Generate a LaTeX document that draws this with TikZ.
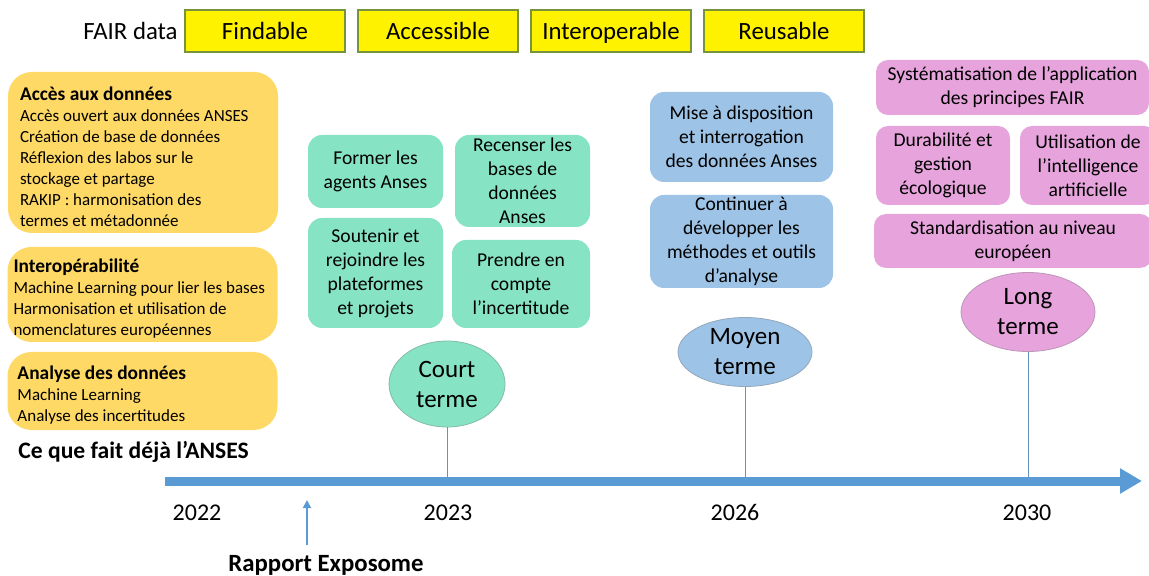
\documentclass[tikz,border=0pt]{standalone}
\usepackage{fontspec}
\setmainfont{Carlito}
\usepackage{tikz}
\usetikzlibrary{arrows.meta}
\usetikzlibrary{positioning, calc}
\usetikzlibrary{shapes.geometric}

\definecolor{fairfill}{HTML}{FFF200}
\definecolor{fairdraw}{HTML}{77933C}
\definecolor{orangebox}{HTML}{FFD966}
\definecolor{greenbox}{HTML}{86E3C3}
\definecolor{bluebox}{HTML}{9DC3E6}
\definecolor{pinkbox}{HTML}{E6A3DC}
\definecolor{axisblue}{HTML}{5B9BD5}

\newcommand{\titre}[1]{{\rule{0pt}{11pt}\bfseries\fontsize{9.7}{11}\selectfont #1}}

\begin{document}
\begin{tikzpicture}[
    x=0.5pt, y=-0.5pt,
    fair/.style={draw=fairdraw, fill=fairfill, line width=1.2pt, minimum width=80pt, minimum height=21pt, text height=10pt, text depth=1pt, font=\fontsize{12.4}{14}\selectfont},
    acquis/.style={fill=orangebox, rounded corners=12pt, minimum width=135pt, text width=128pt, inner xsep=3.5pt, inner ysep=1pt, align=flush left, font=\fontsize{8.5}{10.5}\selectfont},
    block/.style={rounded corners=7pt, align=center, inner sep=1pt, font=\fontsize{9.8}{12}\selectfont},
    court box/.style={block, fill=greenbox},
    moyen box/.style={block, fill=bluebox},
    long box/.style={block, fill=pinkbox, rounded corners=6pt},
    horizon/.style={ellipse, draw, inner sep=0pt, align=center, font=\fontsize{12.5}{15}\selectfont},
    tige/.style={draw=axisblue!70!gray, line width=0.5pt},
    year/.style={font=\fontsize{12}{14}\selectfont, text height=8.5pt, text depth=0pt}
]
    \useasboundingbox (0,0) rectangle (1149,576);

    % FAIR
    \node[anchor=east, inner xsep=0pt, font=\fontsize{12.4}{14}\selectfont] (fairdata) at (178,31) {FAIR data};
    \foreach \label [count=\i from 0] in {Findable, Accessible, Interoperable, Reusable} {
        \node[fair] (fair\i) at (265 + \i * 173, 31) {\label};
    }

    % ce qui existe deja
    \node[acquis, minimum height=80.5pt, inner xsep=6pt, text width=123pt] (acces) at (143,152.5) {\titre{Accès aux données}\\Accès ouvert aux données ANSES\\Création de base de données\\Réflexion des labos sur le\\stockage et partage\\RAKIP : harmonisation des\\termes et métadonnée};
    \node[acquis, minimum height=47.5pt, inner xsep=3pt, text width=129pt] (interop) at (142.5,294.5) {\titre{Interopérabilité}\\Machine Learning pour lier les bases\\Harmonisation et utilisation de\\nomenclatures européennes};
    \node[acquis, minimum height=39pt, inner xsep=5pt, text width=125pt] (analyse) at (142.5,391) {\titre{Analyse des données}\\Machine Learning\\Analyse des incertitudes};
    \node[anchor=west, inner xsep=0pt, font=\bfseries\fontsize{11.8}{13}\selectfont] (deja) at (18,452) {Ce que fait déjà l’ANSES};

    % court terme
    \node[court box, minimum width=67.5pt, minimum height=36.5pt] (former) at (375.5,171.5) {Former les\\agents Anses};
    \node[court box, minimum width=67.5pt, minimum height=46pt] (recenser) at (522.5,181) {Recenser les\\bases de\\données\\Anses};
    \node[court box, minimum width=67.5pt, minimum height=55pt] (soutenir) at (375.5,273) {Soutenir et\\rejoindre les\\plateformes\\et projets};
    \node[court box, minimum width=69pt, minimum height=44pt] (prendre) at (521,284) {Prendre en\\compte\\l’incertitude};

    % moyen terme
    \node[moyen box, minimum width=91.5pt, minimum height=45pt] (mise) at (741.5,137) {Mise à disposition\\et interrogation\\des données Anses};
    \node[moyen box, minimum width=91.5pt, minimum height=46.5pt] (continuer) at (741.5,241.5) {Continuer à\\développer les\\méthodes et outils\\d’analyse};

    % long terme
    \node[long box, minimum width=136.5pt, minimum height=27.5pt] (systema) at (1012.5,87.5) {Systématisation de l’application\\des principes FAIR};
    \node[long box, minimum width=67pt, minimum height=39.5pt] (durable) at (943,165.5) {Durabilité et\\gestion\\écologique};
    \node[long box, minimum width=68pt, minimum height=39.5pt] (ia) at (1088,165.5) {Utilisation de\\l’intelligence\\artificielle};
    \node[long box, minimum width=139pt, minimum height=27pt] (standard) at (1013,241) {Standardisation au niveau\\européen};

    % horizons
    \node[horizon, fill=greenbox, draw=greenbox!60!gray, minimum width=58pt, minimum height=43pt] (court) at (447,384) {Court\\terme};
    \node[horizon, fill=bluebox, draw=bluebox!60!gray, minimum width=67pt, minimum height=34.5pt] (moyen) at (745,352) {Moyen\\terme};
    \node[horizon, fill=pinkbox, draw=pinkbox!60!gray, minimum width=67pt, minimum height=39.5pt] (long) at (1028,312) {Long\\terme};

    % frise
    \coordinate (axe0) at (165,481);
    \coordinate (axe1) at (1142,481);
    \draw[tige] (court.south) -- (court.south |- axe0);
    \draw[tige] (moyen.south) -- (moyen.south |- axe0);
    \draw[tige] (long.south) -- (long.south |- axe0);
    \draw[axisblue, line width=4.5pt, -{Triangle[length=11pt, width=12pt]}] (axe0) -- (axe1);

    \foreach \yr/\x in {2022/197, 2023/448, 2026/735, 2030/1027} {
        \node[year] (an\yr) at (\x,512) {\yr};
    }

    \coordinate (rp0) at (307,545);
    \coordinate (rp1) at (307,500);
    \draw[axisblue, line width=0.9pt, -{Triangle[length=4pt, width=4pt]}] (rp0) -- (rp1);
    \node[font=\bfseries\fontsize{12.4}{14}\selectfont] (rapport) at (326,565) {Rapport Exposome};
\end{tikzpicture}
\end{document}
